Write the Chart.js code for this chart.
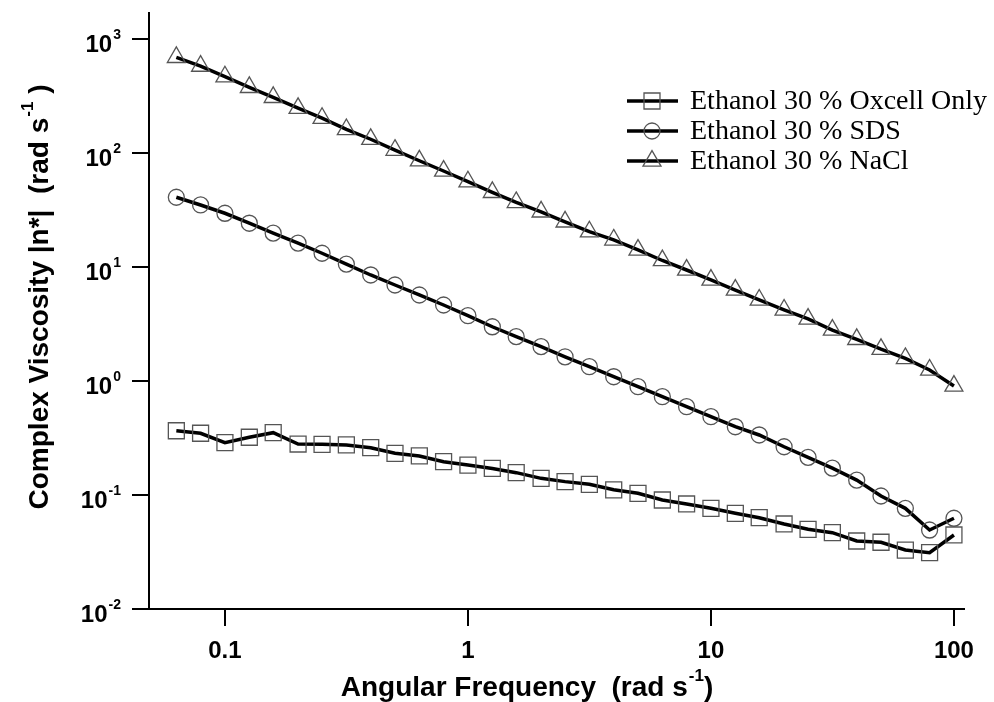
<!DOCTYPE html>
<html>
<head>
<meta charset="utf-8">
<script src="https://cdn.jsdelivr.net/npm/chart.js@4/dist/chart.umd.min.js"></script>
<style>
  html, body { margin: 0; padding: 0; background: #fff; }
  #wrap { width: 994px; height: 702px; position: relative; }
</style>
</head>
<body>
<div id="wrap"><canvas id="c" width="994" height="702"></canvas></div>
<script>
// Angular frequency (rad/s)
const frequency = [0.0631, 0.0794, 0.1, 0.126, 0.158, 0.2, 0.251, 0.316, 0.398, 0.501,
  0.631, 0.794, 1, 1.26, 1.58, 2, 2.51, 3.16, 3.98, 5.01,
  6.31, 7.94, 10, 12.6, 15.8, 20, 25.1, 31.6, 39.8, 50.1,
  63.1, 79.4, 100];

// Complex viscosity |n*| for each formulation
const oxcellOnly = [0.366, 0.348, 0.288, 0.321, 0.352, 0.280, 0.278, 0.275, 0.260, 0.232,
  0.220, 0.196, 0.183, 0.171, 0.157, 0.140, 0.131, 0.124, 0.111, 0.1035,
  0.0904, 0.0834, 0.0764, 0.0691, 0.0632, 0.0557, 0.0500, 0.0467, 0.0395, 0.0385,
  0.0329, 0.0312, 0.0446];
const sds = [40.9, 35.0, 29.6, 24.2, 19.8, 16.2, 13.2, 10.6, 8.51, 6.95,
  5.68, 4.64, 3.74, 2.99, 2.45, 2.00, 1.63, 1.335, 1.09, 0.891,
  0.728, 0.595, 0.486, 0.397, 0.336, 0.265, 0.214, 0.172, 0.135, 0.098,
  0.0764, 0.0493, 0.0625];
const nacl = [691, 579, 467, 377, 308, 247, 202, 161, 132, 106,
  85.5, 69.5, 56.0, 45.2, 36.9, 30.5, 24.9, 20.4, 17.3, 14.1,
  11.4, 9.41, 7.69, 6.28, 5.14, 4.20, 3.50, 2.80, 2.32, 1.90,
  1.58, 1.25, 0.904];

const seriesNames = ['Ethanol 30 % Oxcell Only', 'Ethanol 30 % SDS', 'Ethanol 30 % NaCl'];
const seriesMarkers = ['rect', 'circle', 'triangle'];
const markerRadius = { rect: 11.3, circle: 8, triangle: 10.4 };

const xTickValues = [0.1, 1, 10, 100];
const xTickLabels = ['0.1', '1', '10', '100'];
const yTickValues = [0.01, 0.1, 1, 10, 100, 1000];
const yTickExponents = ['-2', '-1', '0', '1', '2', '3'];

const xTitle = ['Angular Frequency  (rad s', '-1', ')'];
const yTitle = ['Complex Viscosity |n*|  (rad s', '-1', ' )'];

const sansBold = (px) => 'bold ' + px + 'px "Liberation Sans", Arial, sans-serif';
const serif = (px) => px + 'px "Liberation Serif", "Times New Roman", serif';

const LINE_W = 3.5;
const MARK_COLOR = '#555';

function toPoints(ys) {
  return frequency.map((f, i) => ({ x: f, y: ys[i] }));
}

function makeDataset(label, ys, style) {
  return {
    label,
    data: toPoints(ys),
    borderColor: '#000',
    borderWidth: LINE_W,
    tension: 0,
    fill: false,
    pointStyle: style,
    pointRadius: markerRadius[style],
    pointHoverRadius: markerRadius[style],
    pointBorderColor: MARK_COLOR,
    pointBorderWidth: 1.3,
    pointBackgroundColor: 'rgba(0,0,0,0)'
  };
}

// Draw a run of text pieces: base text, raised superscript, trailing text
function drawSupText(ctx, parts, x, y, align, basePx, supPx, raise) {
  ctx.font = sansBold(basePx);
  const w0 = ctx.measureText(parts[0]).width;
  ctx.font = sansBold(supPx);
  const w1 = ctx.measureText(parts[1]).width;
  ctx.font = sansBold(basePx);
  const w2 = parts[2] ? ctx.measureText(parts[2]).width : 0;
  const total = w0 + w1 + w2 + 1;
  let sx = x;
  if (align === 'center') sx = x - total / 2;
  else if (align === 'right') sx = x - total;
  ctx.textAlign = 'left';
  ctx.textBaseline = 'middle';
  ctx.fillStyle = '#000';
  ctx.font = sansBold(basePx);
  ctx.fillText(parts[0], sx, y);
  ctx.font = sansBold(supPx);
  ctx.fillText(parts[1], sx + w0 + 1, y - raise);
  if (parts[2]) {
    ctx.font = sansBold(basePx);
    ctx.fillText(parts[2], sx + w0 + 1 + w1, y);
  }
}

const labelsPlugin = {
  id: 'axisText',
  afterDraw(chart) {
    const ctx = chart.ctx;
    const xs = chart.scales.x, ys = chart.scales.y;
    ctx.save();

    // y tick labels: 10 with exponent
    yTickValues.forEach((v, i) => {
      const py = ys.getPixelForValue(v);
      drawSupText(ctx, ['10', yTickExponents[i], ''], 121, py + 6, 'right', 24, 14, 10);
    });

    // x tick labels
    ctx.font = sansBold(24);
    ctx.fillStyle = '#000';
    ctx.textAlign = 'center';
    ctx.textBaseline = 'middle';
    xTickValues.forEach((v, i) => {
      ctx.fillText(xTickLabels[i], xs.getPixelForValue(v), 651);
    });

    // axis titles
    drawSupText(ctx, xTitle, 527, 688, 'center', 28, 17, 12);
    ctx.save();
    ctx.translate(40, 297);
    ctx.rotate(-Math.PI / 2);
    drawSupText(ctx, yTitle, 0, 0, 'center', 28, 17, 12);
    ctx.restore();

    // legend
    const rows = [101, 131, 161];
    chart.data.datasets.forEach((ds, i) => {
      const y = rows[i];
      ctx.strokeStyle = '#000';
      ctx.lineWidth = LINE_W;
      ctx.beginPath();
      ctx.moveTo(627, y);
      ctx.lineTo(678, y);
      ctx.stroke();
      ctx.strokeStyle = MARK_COLOR;
      ctx.fillStyle = 'rgba(0,0,0,0)';
      ctx.lineWidth = 1.3;
      Chart.helpers.drawPoint(ctx, { pointStyle: ds.pointStyle, radius: ds.pointRadius, borderWidth: 1.3, rotation: 0 }, 652, y);
      ctx.fillStyle = '#000';
      ctx.font = serif(28);
      ctx.textAlign = 'left';
      ctx.textBaseline = 'middle';
      ctx.fillText(ds.label, 690, y + 1);
    });

    ctx.restore();
  }
};

new Chart(document.getElementById('c'), {
  type: 'line',
  data: {
    datasets: [
      makeDataset(seriesNames[0], oxcellOnly, seriesMarkers[0]),
      makeDataset(seriesNames[1], sds, seriesMarkers[1]),
      makeDataset(seriesNames[2], nacl, seriesMarkers[2])
    ]
  },
  options: {
    responsive: false,
    animation: false,
    events: [],
    layout: { padding: { left: 0, top: 13, right: 30, bottom: 0 } },
    plugins: { legend: { display: false }, tooltip: { enabled: false }, title: { display: false } },
    scales: {
      x: {
        type: 'logarithmic',
        min: 0.0487,
        max: 110,
        afterBuildTicks(scale) { scale.ticks = xTickValues.map(v => ({ value: v })); },
        afterFit(scale) { scale.height = 93; },
        ticks: { display: false },
        grid: { drawOnChartArea: false, drawTicks: true, tickLength: 17, color: '#000', lineWidth: 2 },
        border: { display: true, color: '#000', width: 2 }
      },
      y: {
        type: 'logarithmic',
        min: 0.01,
        max: 1690,
        afterBuildTicks(scale) { scale.ticks = yTickValues.map(v => ({ value: v })); },
        afterFit(scale) { scale.width = 149; },
        ticks: { display: false },
        grid: { drawOnChartArea: false, drawTicks: true, tickLength: 17, color: '#000', lineWidth: 2 },
        border: { display: true, color: '#000', width: 2 }
      }
    }
  },
  plugins: [labelsPlugin]
});
</script>
</body>
</html>
